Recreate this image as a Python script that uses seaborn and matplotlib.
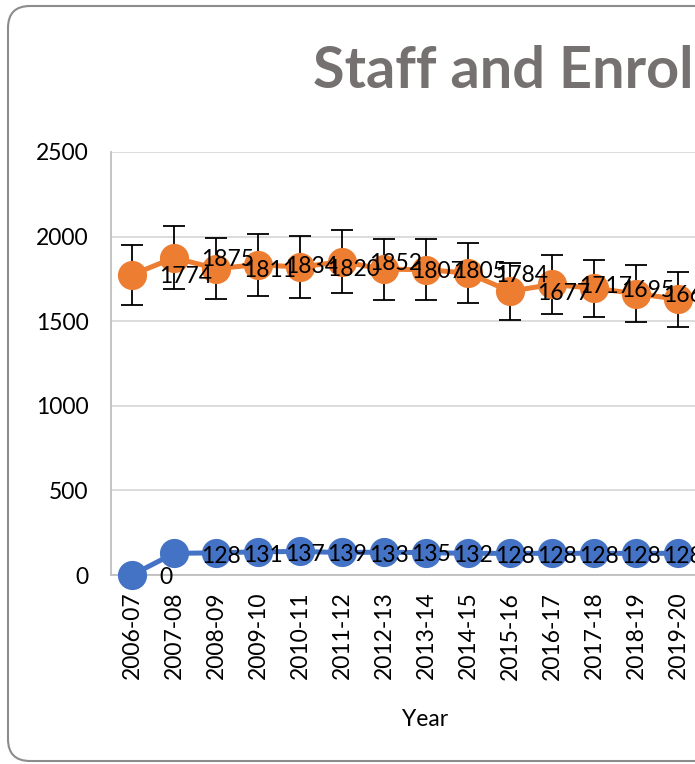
import pandas as pd
import matplotlib.pyplot as plt
import seaborn as sns
from matplotlib.patches import FancyBboxPatch

# values
years = ['2006-07', '2007-08', '2008-09', '2009-10', '2010-11', '2011-12', '2012-13',
         '2013-14', '2014-15', '2015-16', '2016-17', '2017-18', '2018-19', '2019-20']
enrolment = [1774, 1875, 1811, 1834, 1820, 1852, 1807, 1805, 1784, 1677, 1717, 1695, 1663, 1630]
staff = [0, 128, 131, 137, 139, 133, 135, 132, 128, 128, 128, 128, 128, 128]
err_pct = 0.10

df = pd.DataFrame({'Year': years, 'Enrolment': enrolment, 'Staff': staff})

sns.set_theme(style='white')
plt.rcParams['font.family'] = ['Lato', 'DejaVu Sans']

fig = plt.figure(figsize=(6.95, 7.64), dpi=100)
W, H = 695, 764
ax = fig.add_axes([111 / W, 189 / H, 630 / W, 423 / H])

# rounded chart border running off the right edge
border = FancyBboxPatch((8, 3), 950, 755, boxstyle='round,pad=0,rounding_size=22',
                        transform=None, fill=False, edgecolor='#8c8c8c', linewidth=1.5)
fig.patches.append(border)

blue = '#4472C4'
orange = '#ED7D31'

x = list(range(len(years)))
ax.errorbar(x, df.Enrolment, yerr=df.Enrolment * err_pct, fmt='none', ecolor='black',
            elinewidth=1.3, capsize=8, capthick=1.3, zorder=2)

sns.lineplot(data=df, x='Year', y='Staff', sort=False, color=blue, linewidth=3.6,
             marker='o', markersize=21, markeredgewidth=0, ax=ax, zorder=3, clip_on=False)
sns.lineplot(data=df, x='Year', y='Enrolment', sort=False, color=orange, linewidth=3.6,
             marker='o', markersize=21, markeredgewidth=0, ax=ax, zorder=3, clip_on=False)

# data labels to the right of each point
for i in x:
    ax.annotate(str(enrolment[i]), (i, enrolment[i]), xytext=(19.5, -1.5), textcoords='offset points',
                ha='left', va='center', fontsize=16.5, color='black', zorder=5)
    ax.annotate(str(staff[i]), (i, staff[i]), xytext=(19.5, -2), textcoords='offset points',
                ha='left', va='center', fontsize=16.5, color='black', zorder=5)

ax.set_xlim(-0.5, 14.5)
ax.set_ylim(0, 2500)
ax.set_yticks([0, 500, 1000, 1500, 2000, 2500])
ax.yaxis.grid(True, color='#d9d9d9', linewidth=1.3)
ax.set_axisbelow(True)
for s in ['top', 'right']:
    ax.spines[s].set_visible(False)
ax.spines['left'].set_color('#bfbfbf')
ax.spines['left'].set_linewidth(1.3)
ax.spines['bottom'].set_color('#bfbfbf')
ax.spines['bottom'].set_linewidth(1.3)
ax.tick_params(axis='y', length=0, pad=16, labelsize=16.5, labelcolor='black')
ax.tick_params(axis='x', length=0, pad=12, labelsize=16.5, labelcolor='black', rotation=90)
ax.set_xlabel('')
ax.set_ylabel('')

fig.text(425 / W, 1 - 720 / H, 'Year', ha='center', va='center', fontsize=16.5, color='black')
fig.text(313 / W, 1 - 72 / H, 'Staff and Enrolment', ha='left', va='center',
         fontsize=41.5, fontweight='bold', color='#767171')

fig.savefig('out.png', dpi=100)
